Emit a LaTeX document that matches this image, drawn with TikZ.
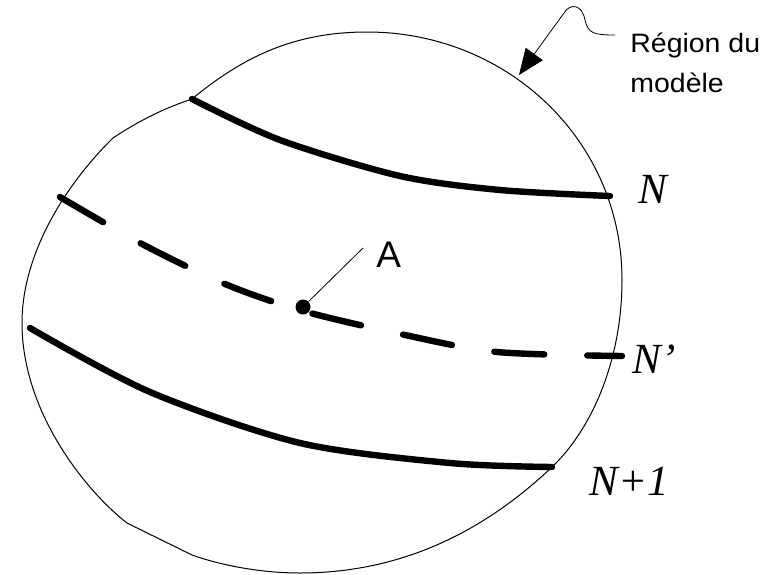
\documentclass[tikz,border=0pt]{standalone}
\usepackage{fontspec}
\setmainfont{Liberation Serif}
\setsansfont{Liberation Sans}
\usetikzlibrary{arrows.meta}
\tikzset{
  bord/.style={line width=0.5pt,black},
  iso/.style={line width=3.2pt,line cap=round,black},
  isodash/.style={iso,dash pattern=on 25pt off 21.5pt},
  ptdot/.style={circle,fill=black,inner sep=0pt,minimum size=7.5pt},
  leader/.style={line width=0.4pt,black},
  reglbl/.style={font=\sffamily\fontsize{13.3}{15}\selectfont,inner sep=0pt,
    anchor=base west},
  ptlbl/.style={font=\sffamily\fontsize{18.5}{20}\selectfont,inner sep=0pt,
    anchor=base west},
  isolbl/.style={font=\itshape\fontsize{21.5}{24}\selectfont,inner sep=0pt,
    anchor=base west},
}
\newcommand{\etire}[1]{\scalebox{1.07}[1]{#1}}
\begin{document}
\begin{tikzpicture}[x=0.5pt,y=-0.5pt]
  \useasboundingbox (0,0) rectangle (777,574);
  \draw[bord] (192,99) .. controls (245,55) and (297,32) .. (367,32)
    .. controls (507,32) and (622,140) .. (622,280)
    .. controls (622,360) and (592,429) .. (552,467)
    .. controls (492,524) and (410,573) .. (300,573)
    .. controls (260,573) and (220,565) .. (192,555)
    -- (127,523)
    .. controls (87,492) and (22,413) .. (22,323)
    .. controls (22,250) and (70,180) .. (113,138)
    .. controls (140,120) and (165,108) .. (192,99) -- cycle;
  \draw[iso] plot[smooth] coordinates {(192,99) (280,140) (400,176) (500,190) (610,196)};
  \draw[isodash] plot[smooth] coordinates {(60,197) (142,244) (225,284) (303,311)
    (405,335) (497,352) (622,356)};
  \draw[iso] plot[smooth] coordinates {(30,328) (150,392) (300,443) (450,463) (552,467)};
  \node[isolbl] (lN) at (638,203) {N};
  \node[isolbl] (lNp) at (632,373) {N’};
  \node[isolbl] (lN1) at (589,495) {N+1};
  \node[ptdot] (ptA) at (303,307) {};
  \node[ptlbl] (lA) at (376,267) {A};
  \coordinate (aEnd) at (363,248);
  \draw[leader] (ptA) -- (aEnd);
  \node[reglbl] (lReg) at (630,52) {\etire{Région du}};
  \node[reglbl] (lMod) at (630,92) {\etire{modèle}};
  \coordinate (regTip) at (519,75);
  \coordinate (regEnd) at (615,35);
  \draw[leader,{Triangle[length=13pt,width=10.5pt]}-] (regTip) -- (564,13)
    .. controls (570,3) and (582,4) .. (585,20)
    .. controls (588,33) and (593,35) .. (regEnd);
\end{tikzpicture}
\end{document}
